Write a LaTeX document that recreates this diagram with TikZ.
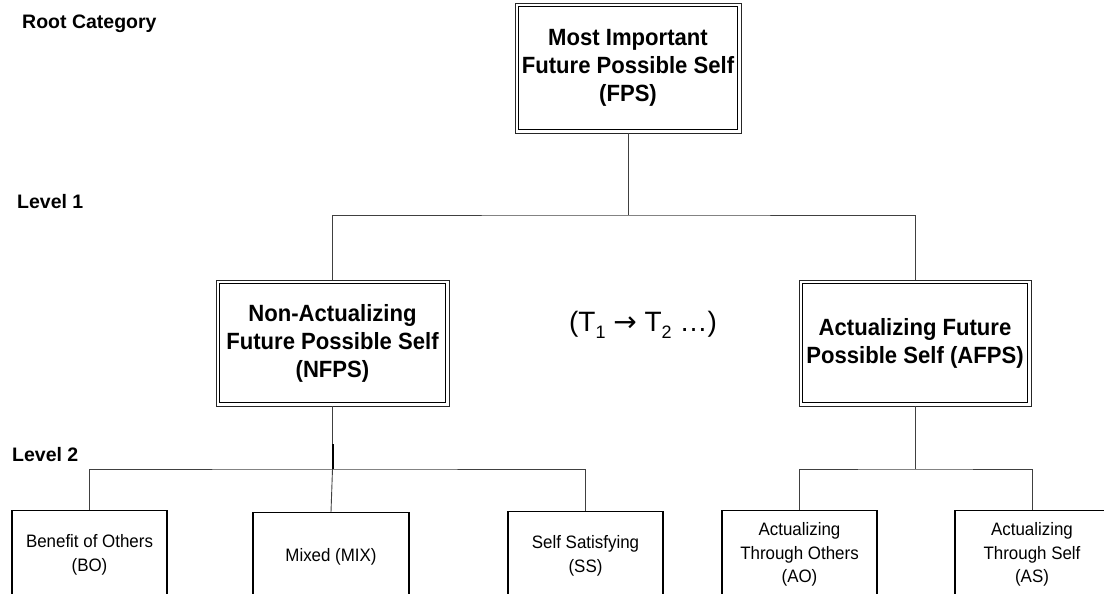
\documentclass[tikz,border=0pt]{standalone}
\usepackage{fontspec}
\setmainfont{Liberation Sans}
\newfontfamily\boxfont[FakeStretch=0.94]{Liberation Sans}
\newfontfamily\arrowfont{DejaVu Sans}
\newcommand\mysub[1]{\raisebox{-0.45ex}{\fontsize{18}{18}\selectfont #1}}
\begin{document}
\begin{tikzpicture}[x=1pt,y=-1pt,
  conn/.style={draw=black!75, line width=0.9pt},
  dbox/.style={draw=black!85, line width=0.8pt, align=center, inner sep=0pt,
    font=\boxfont\fontsize{23.5}{28}\selectfont\bfseries},
  leaf/.style={draw=black, line width=1.2pt, align=center, inner sep=0pt,
    font=\boxfont\fontsize{18}{23.5}\selectfont, minimum width=155pt, minimum height=88pt, anchor=north},
  lvl/.style={font=\fontsize{19.5}{22}\selectfont\bfseries, anchor=west, inner sep=0pt}]
\useasboundingbox (0,0) rectangle (1104,594);
\clip (0,0) rectangle (1104,594);

% level labels
\node[lvl] (root) at (22,24) {Root Category};
\node[lvl] (l1) at (17,202) {Level 1};
\node[lvl] (l2) at (12,455) {Level 2};

% main boxes (outer frame)
\node[dbox, minimum width=226pt, minimum height=130pt] (fps) at (628,68)
  {Most Important\\Future Possible Self\\(FPS)};
\node[dbox, minimum width=233pt, minimum height=126pt] (nfps) at (332.5,343)
  {Non-Actualizing\\Future Possible Self\\(NFPS)};
\node[dbox, minimum width=232pt, minimum height=126pt] (afps) at (915,343)
  {Actualizing Future\\Possible Self (AFPS)};
% inner frames
\foreach \n in {fps,nfps,afps}{
  \draw[black, line width=1.7pt] ([xshift=4pt,yshift=-4pt]\n.north west) rectangle ([xshift=-4pt,yshift=4pt]\n.south east);
}

% middle text
\node[font=\fontsize{28}{32}\selectfont] (tt) at (643,325)
  {(T\mysub{1} {\arrowfont →} T\mysub{2} …)};

% leaves
\node[leaf] (bo) at (89.5,510) {Benefit of Others\\(BO)};
\node[leaf, minimum width=156pt] (mix) at (331,512) {Mixed (MIX)};
\node[leaf] (ss) at (585.5,511) {Self Satisfying\\(SS)};
\node[leaf] (ao) at (799.5,510) {Actualizing\\Through Others\\(AO)};
\node[leaf, minimum width=154pt] (as) at (1032,510) {Actualizing\\Through Self\\(AS)};

% connectors level 1
\coordinate (j1) at (628,215);
\draw[conn] (fps.south) -- (j1);
\draw[conn] (nfps.north) |- (j1) -| (afps.north);

% connectors level 2 left
\coordinate (j2) at (332.5,469);
\coordinate (k2) at (332.5,444);
\draw[conn] (nfps.south) -- (j2);
\draw[black, line width=2pt] (k2) -- (j2);
\draw[conn] (bo.north) |- (j2) -| (ss.north);
\draw[conn] (j2) -- (mix.north);

% connectors level 2 right
\coordinate (j3) at (915,469);
\draw[conn] (afps.south) -- (j3);
\draw[conn] (ao.north) |- (j3) -| (as.north);
\end{tikzpicture}
\end{document}
